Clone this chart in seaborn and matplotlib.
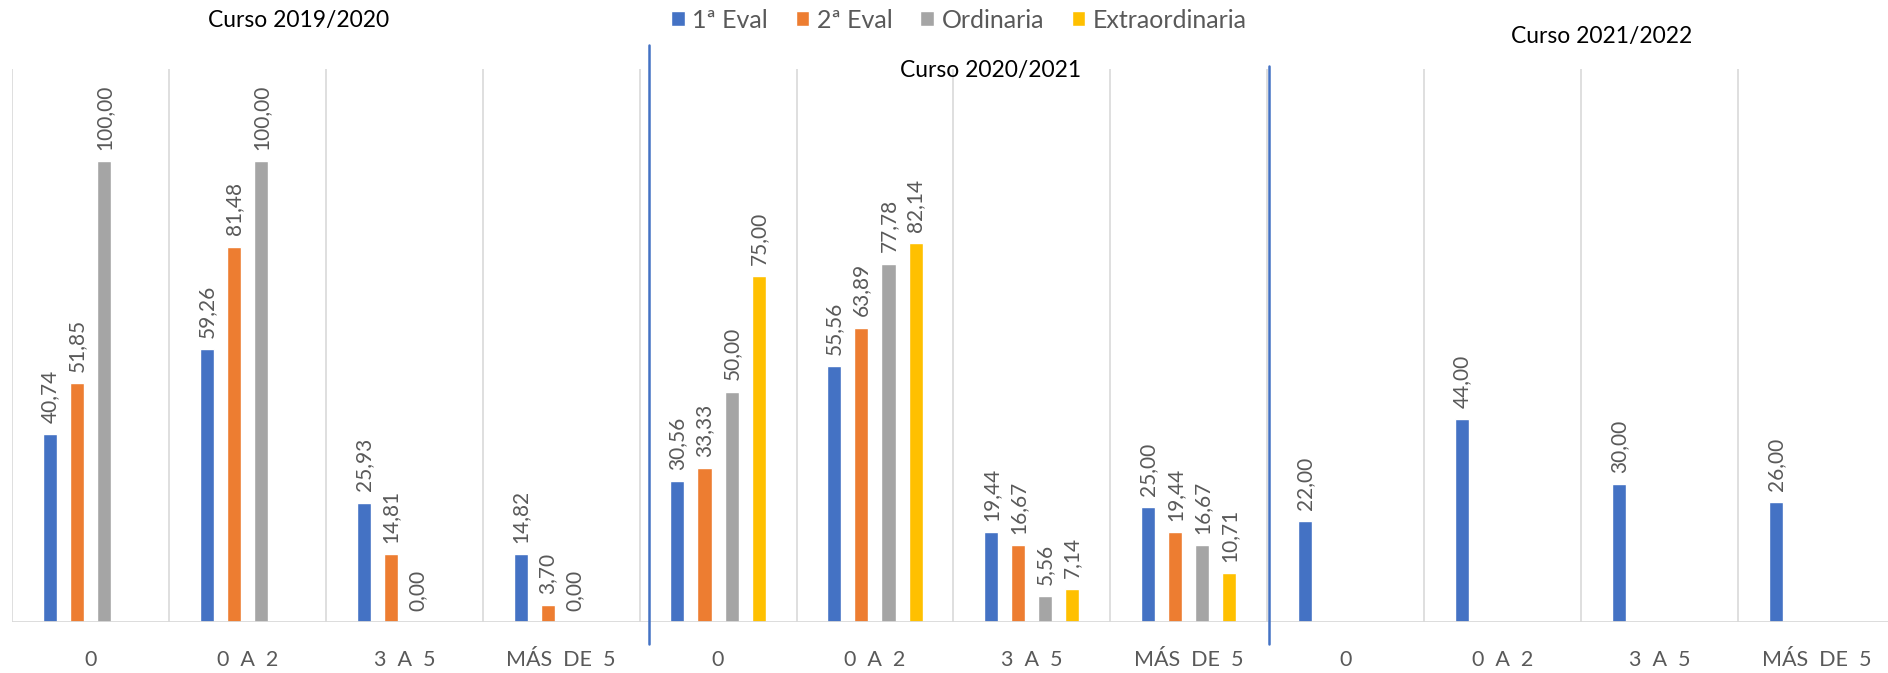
import numpy as np
import pandas as pd
import matplotlib
matplotlib.use("Agg")
import matplotlib.pyplot as plt
import seaborn as sns

# data
cursos = ["Curso 2019/2020", "Curso 2020/2021", "Curso 2021/2022"]
grupos = ["0", "0 A 2", "3 A 5", "MÁS DE 5"]
series = ["1ª Eval", "2ª Eval", "Ordinaria", "Extraordinaria"]
colores = ["#4472C4", "#ED7D31", "#A5A5A5", "#FFC000"]

eval1 = [40.74, 59.26, 25.93, 14.82, 30.56, 55.56, 19.44, 25.00, 22.00, 44.00, 30.00, 26.00]
eval2 = [51.85, 81.48, 14.81, 3.70, 33.33, 63.89, 16.67, 19.44, np.nan, np.nan, np.nan, np.nan]
ordinaria = [100.00, 100.00, 0.00, 0.00, 50.00, 77.78, 5.56, 16.67, np.nan, np.nan, np.nan, np.nan]
extraordinaria = [np.nan, np.nan, np.nan, np.nan, 75.00, 82.14, 7.14, 10.71, np.nan, np.nan, np.nan, np.nan]

claves = [f"{c}|{g}" for c in cursos for g in grupos]
df = pd.DataFrame({"clave": claves * 4,
                   "serie": np.repeat(series, len(claves)),
                   "valor": eval1 + eval2 + ordinaria + extraordinaria}).dropna()

sns.set_style("white")
plt.rcParams["font.family"] = ["Lato", "DejaVu Sans"]

W, H = 1888, 673
fig = plt.figure(figsize=(W / 100, H / 100), dpi=100)
ancho_cat = 156.9
ax = fig.add_axes([12 / W, (H - 622) / H, 12 * ancho_cat / W, (622 - 69) / H])

sns.barplot(data=df, x="clave", y="valor", hue="serie", order=claves, hue_order=series,
            palette=colores, saturation=1, width=0.69, gap=0.48, errorbar=None, ax=ax, zorder=3)

for cont in ax.containers:
    etiquetas = [f"{b.get_height():.2f}".replace(".", ",") for b in cont]
    ax.bar_label(cont, labels=etiquetas, rotation=90, padding=8, fontsize=15, color="#595959")

ax.set_xlim(-0.5, 11.5)
ax.set_ylim(0, 120)
sns.despine(ax=ax, left=True, bottom=True)
ax.set_yticks([])
ax.set_xlabel("")
ax.set_ylabel("")
ax.set_xticks(range(12))
ax.set_xticklabels([g.replace(" ", "  ") for g in grupos] * 3, fontsize=15.5, color="#595959")
ax.tick_params(axis="x", length=0, pad=20)

# gridlines verticales y linea base
for k in range(13):
    ax.axvline(k - 0.5, color="#D9D9D9", lw=1.2, zorder=1)
ax.axhline(0, color="#D9D9D9", lw=2, zorder=4)

# separadores entre cursos
ax.plot([3.56, 3.56], [-4.8, 125.2], color="#4472C4", lw=1.8, clip_on=False, zorder=5)
ax.plot([7.51, 7.51], [-4.8, 120.6], color="#4472C4", lw=1.8, clip_on=False, zorder=5)

# titulos de cada curso
fig.text(299 / W, 1 - 20 / H, cursos[0], ha="center", va="center", fontsize=16.5, color="black")
fig.text(991 / W, 1 - 71 / H, cursos[1], ha="center", va="center", fontsize=16.5, color="black")
fig.text(1602 / W, 1 - 36 / H, cursos[2], ha="center", va="center", fontsize=16.5, color="black")

handles, labels = ax.get_legend_handles_labels()
ax.get_legend().remove()
leg = fig.legend(handles, labels, loc="center", bbox_to_anchor=(959 / W, 1 - 20 / H), ncol=4,
                 frameon=False, fontsize=18, handlelength=0.55, handleheight=0.55,
                 handletextpad=0.3, columnspacing=1.1)
for t in leg.get_texts():
    t.set_color("#595959")

fig.savefig("out.png", dpi=100)
